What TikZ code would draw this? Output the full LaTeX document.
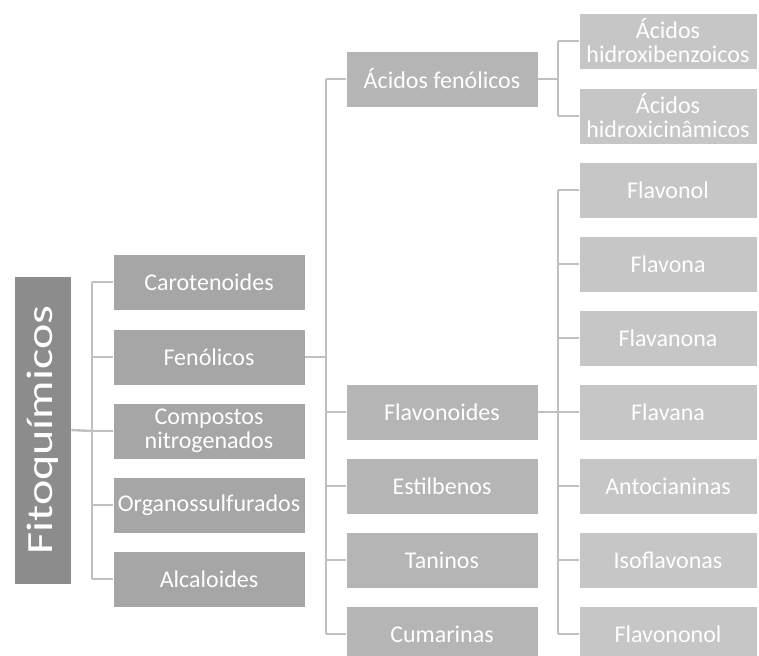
\documentclass[tikz,border=0pt]{standalone}
\usepackage{fontspec}
\usepackage{graphicx}
\setmainfont{Carlito}
\definecolor{rootc}{HTML}{8C8C8C}
\definecolor{lvA}{HTML}{A6A6A6}
\definecolor{lvB}{HTML}{B5B5B5}
\definecolor{lvC}{HTML}{C6C6C6}
\definecolor{linec}{HTML}{C0C0C0}
\tikzset{
  box/.style={rectangle, draw=white, line width=0.6pt, text=white, inner sep=0pt, align=center,
    font=\fontsize{24}{24}\selectfont},
  boxA/.style={box, fill=lvA, minimum width=192pt, minimum height=56pt},
  boxB/.style={box, fill=lvB, minimum width=192pt, minimum height=56pt},
  boxC/.style={box, fill=lvC, minimum width=178pt, minimum height=56pt},
  conn/.style={draw=linec, line width=2.4pt},
}
\begin{document}
\begin{tikzpicture}[x=1pt,y=-1pt]
\useasboundingbox (0,0) rectangle (759,655);
\clip (0,0) rectangle (759,655);
% root
\node[box, fill=rootc, minimum width=308pt, minimum height=57pt, rotate=90] (root) at (42.5,430)
  {\scalebox{1.3}[1]{\fontsize{37}{37}\selectfont Fitoquímicos}};
% level 1
\node[boxA] (car) at (209,282) {Carotenoides};
\node[boxA] (fen) at (209,357) {Fenólicos};
\node[boxA] (com) at (209,431) {Compostos\\nitrogenados};
\node[boxA] (org) at (209,505) {Organossulfurados};
\node[boxA] (alc) at (209,579) {Alcaloides};
% level 2
\node[boxB] (acf) at (442,79) {Ácidos fenólicos};
\node[boxB] (fla) at (442,412) {Flavonoides};
\node[boxB] (est) at (442,486) {Estilbenos};
\node[boxB] (tan) at (442,560) {Taninos};
\node[boxB] (cum) at (442,634) {Cumarinas};
% level 3
\node[boxC] (hb) at (668,41) {Ácidos\\hidroxibenzoicos};
\node[boxC] (hc) at (668,116) {Ácidos\\hidroxicinâmicos};
\node[boxC] (f1) at (668,190) {Flavonol};
\node[boxC] (f2) at (668,264) {Flavona};
\node[boxC] (f3) at (668,338) {Flavanona};
\node[boxC] (f4) at (668,412) {Flavana};
\node[boxC] (f5) at (668,486) {Antocianinas};
\node[boxC] (f6) at (668,560) {Isoflavonas};
\node[boxC] (f7) at (668,634) {Flavononol};
% buses
\coordinate (b1) at (92,431);
\coordinate (b2) at (326,357);
\coordinate (b3) at (558,79);
\coordinate (b4) at (558,412);
% root to level 1
\draw[conn] (root.south) -- (b1);
\draw[conn] (b1 |- car) -- (b1 |- alc);
\foreach \n in {car,fen,com,org,alc} \draw[conn] (\n.west) -- (b1 |- \n);
% fenolicos to level 2
\draw[conn] (fen.east) -- (b2);
\draw[conn] (b2 |- acf) -- (b2 |- cum);
\foreach \n in {acf,fla,est,tan,cum} \draw[conn] (\n.west) -- (b2 |- \n);
% acidos fenolicos to level 3
\draw[conn] (acf.east) -- (b3);
\draw[conn] (b3 |- hb) -- (b3 |- hc);
\foreach \n in {hb,hc} \draw[conn] (\n.west) -- (b3 |- \n);
% flavonoides to level 3
\draw[conn] (fla.east) -- (b4);
\draw[conn] (b4 |- f1) -- (b4 |- f7);
\foreach \n in {f1,f2,f3,f4,f5,f6,f7} \draw[conn] (\n.west) -- (b4 |- \n);
\end{tikzpicture}
\end{document}
